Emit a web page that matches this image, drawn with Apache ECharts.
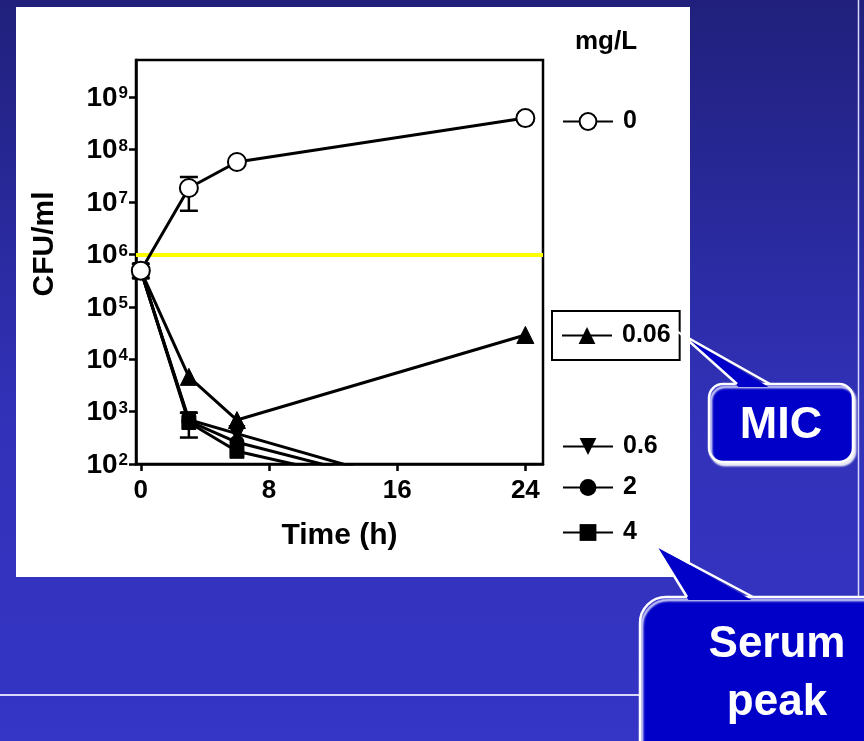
<!DOCTYPE html>
<html>
<head>
<meta charset="utf-8">
<title>Time-kill curves</title>
<script src="https://cdn.jsdelivr.net/npm/echarts@6/dist/echarts.min.js"></script>
<style>
  html, body { margin: 0; padding: 0; background: #2a2aa0; }
  #chart { width: 864px; height: 741px; }
</style>
</head>
<body>
<div id="chart"></div>
<script>
// Sampling times (h)
const hours = [0, 3, 6, 24];

// Viable counts (CFU/ml) for each drug concentration (mg/L)
const cfu_0    = [4.9e5, 1.85e7, 5.8e7, 4.0e8];
const cfu_006  = [4.9e5, 4.6e3, 6.9e2, 2.9e4];
const cfu_06   = [4.9e5, 7.0e2, 3.8e2, 10];
const cfu_2    = [4.9e5, 6.6e2, 2.6e2, 10];
const cfu_4    = [4.9e5, 6.2e2, 1.75e2, 10];

// Error bars: [time, low, high]
const err_0 = [[0, 3.6e5, 6.6e5], [3, 6.8e6, 3.0e7]];
const err_4 = [[3, 3.2e2, 9.5e2]];

// Inoculum reference level
const inoculumLine = 1e6;

// Axis ticks
const xTicks = [0, 8, 16, 24];
const yTicks = [1e2, 1e3, 1e4, 1e5, 1e6, 1e7, 1e8, 1e9];

// Legend names (mg/L)
const concNames = ['0', '0.06', '0.6', '2', '4'];

const FONT = 'Liberation Sans, Arial, Helvetica, sans-serif';
const toPairs = (ys) => hours.map((h, i) => [h, ys[i]]);

const chart = echarts.init(document.getElementById('chart'), null, { renderer: 'canvas' });

function errorBarRender(params, api) {
  const x = api.value(0);
  const lo = api.coord([x, api.value(1)]);
  const hi = api.coord([x, api.value(2)]);
  const half = 9;
  const st = { stroke: '#000', lineWidth: 2.5 };
  return {
    type: 'group',
    children: [
      { type: 'line', shape: { x1: lo[0], y1: lo[1], x2: hi[0], y2: hi[1] }, style: st },
      { type: 'line', shape: { x1: lo[0] - half, y1: lo[1], x2: lo[0] + half, y2: lo[1] }, style: st },
      { type: 'line', shape: { x1: hi[0] - half, y1: hi[1], x2: hi[0] + half, y2: hi[1] }, style: st }
    ]
  };
}

const lineBase = {
  type: 'line',
  lineStyle: { color: '#000', width: 3 },
  itemStyle: { color: '#000', borderColor: '#000' },
  clip: true,
  z: 3
};

function legendFor(name, left, top, boxed) {
  return {
    data: [name],
    left: left,
    top: top,
    orient: 'vertical',
    selectedMode: false,
    itemWidth: 50,
    itemHeight: 21,
    padding: boxed ? [12, 9, 12, 9] : 0,
    borderColor: boxed ? '#000' : 'transparent',
    borderWidth: boxed ? 2 : 0,
    textStyle: { fontFamily: FONT, fontWeight: 'bold', fontSize: 25, color: '#000', padding: [0, 0, 0, 5] }
  };
}

function callout(box, tail, lines, fontSize, lineGap, zBase) {
  const fill = '#0000c8';
  const els = [
    {
      type: 'rect', z: zBase,
      shape: { x: box.x, y: box.y, width: box.w, height: box.h, r: box.r },
      style: {
        fill: fill, stroke: '#ffffff', lineWidth: 2.5,
        shadowColor: 'rgba(255,255,255,0.9)', shadowBlur: 2, shadowOffsetX: 2, shadowOffsetY: 3
      }
    },
    {
      type: 'polygon', z: zBase + 1,
      shape: { points: [tail.apex, [tail.b1[0] + 1.5, tail.b1[1] + 3], [tail.b2[0] - 1.5, tail.b2[1] + 3]] },
      style: { fill: fill }
    },
    {
      type: 'polyline', z: zBase + 2,
      shape: { points: [tail.b1, tail.apex, tail.b2] },
      style: { stroke: '#ffffff', lineWidth: 2.5, fill: null }
    }
  ];
  lines.forEach((t, i) => {
    els.push({
      type: 'text', z: zBase + 3,
      x: box.cx, y: box.ty + i * lineGap,
      style: {
        text: t, fill: '#ffffff', font: 'bold ' + fontSize + 'px ' + FONT,
        textAlign: 'center', textVerticalAlign: 'middle'
      }
    });
  });
  return els;
}

const option = {
  animation: false,
  title: {
    text: 'mg/L',
    left: 575,
    top: 29,
    padding: 0,
    textStyle: { fontFamily: FONT, fontWeight: 'bold', fontSize: 26, color: '#000' }
  },
  legend: [
    legendFor(concNames[0], 562, 109, false),
    legendFor(concNames[1], 552, 311, true),
    legendFor(concNames[2], 562, 434, false),
    legendFor(concNames[3], 562, 475, false),
    legendFor(concNames[4], 562, 520, false)
  ],
  grid: {
    left: 136, right: 321, top: 60, bottom: 277,
    show: true, borderColor: '#000', borderWidth: 2.5, backgroundColor: 'transparent'
  },
  xAxis: {
    type: 'value',
    min: -0.3,
    max: 25.1,
    name: 'Time (h)',
    nameLocation: 'middle',
    nameGap: 57,
    nameTextStyle: { fontFamily: FONT, fontWeight: 'bold', fontSize: 30, color: '#000' },
    splitLine: { show: false },
    axisLine: { onZero: false, lineStyle: { color: '#000', width: 2.5 } },
    axisTick: { show: true, length: 7, lineStyle: { color: '#000', width: 2.5 }, customValues: xTicks },
    axisLabel: {
      customValues: xTicks, margin: 14,
      fontFamily: FONT, fontWeight: 'bold', fontSize: 26, color: '#000'
    }
  },
  yAxis: {
    type: 'log',
    logBase: 10,
    min: 1e2,
    max: Math.pow(10, 9.71),
    name: 'CFU/ml',
    nameLocation: 'middle',
    nameRotate: 90,
    nameGap: 76,
    nameTextStyle: { fontFamily: FONT, fontWeight: 'bold', fontSize: 30, color: '#000', padding: [0, 0, 0, 36] },
    splitLine: { show: false },
    axisLine: { onZero: false, lineStyle: { color: '#000', width: 2.5 } },
    axisTick: { show: true, length: 7, lineStyle: { color: '#000', width: 2.5 }, customValues: yTicks },
    axisLabel: {
      customValues: yTicks, margin: 8,
      formatter: (v) => '{b|10}{s|' + Math.round(Math.log10(v)) + '}',
      rich: {
        b: { fontFamily: FONT, fontWeight: 'bold', fontSize: 28, color: '#000', lineHeight: 30, verticalAlign: 'bottom' },
        s: { fontFamily: FONT, fontWeight: 'bold', fontSize: 17, color: '#000', lineHeight: 30, verticalAlign: 'top', padding: [3, 0, 0, 1] }
      }
    }
  },
  series: [
    {
      type: 'custom', name: 'err0', renderItem: errorBarRender,
      data: err_0, encode: { x: 0, y: [1, 2] }, z: 1, silent: true
    },
    {
      type: 'custom', name: 'err4', renderItem: errorBarRender,
      data: err_4, encode: { x: 0, y: [1, 2] }, z: 1, silent: true
    },
    Object.assign({}, lineBase, {
      name: concNames[4], data: toPairs(cfu_4), symbol: 'rect', symbolSize: 14
    }),
    Object.assign({}, lineBase, {
      name: concNames[3], data: toPairs(cfu_2), symbol: 'circle', symbolSize: 14
    }),
    Object.assign({}, lineBase, {
      name: concNames[2], data: toPairs(cfu_06), symbol: 'triangle', symbolSize: 16, symbolRotate: 180
    }),
    Object.assign({}, lineBase, {
      name: concNames[1], data: toPairs(cfu_006), symbol: 'triangle', symbolSize: 17
    }),
    Object.assign({}, lineBase, {
      name: concNames[0], data: toPairs(cfu_0), symbol: 'emptyCircle', symbolSize: 18,
      itemStyle: { color: '#000', borderColor: '#000', borderWidth: 2.5 },
      z: 5,
      markLine: {
        silent: true,
        symbol: ['none', 'none'],
        label: { show: false },
        lineStyle: { color: '#ffff00', width: 4, type: 'solid' },
        data: [{ yAxis: inoculumLine }],
        z: 2
      }
    })
  ],
  graphic: [
    {
      type: 'rect', z: -100, silent: true,
      shape: { x: 0, y: 0, width: 864, height: 741 },
      style: {
        fill: new echarts.graphic.LinearGradient(0, 0, 0, 1, [
          { offset: 0, color: '#20207c' },
          { offset: 0.55, color: '#3131b8' },
          { offset: 1, color: '#3535c6' }
        ])
      }
    },
    {
      type: 'rect', z: -99, silent: true,
      shape: { x: 16, y: 7, width: 674, height: 570 },
      style: { fill: '#ffffff' }
    },
    {
      type: 'line', z: -98, silent: true,
      shape: { x1: 0, y1: 695, x2: 645, y2: 695 },
      style: { stroke: '#d8d8ff', lineWidth: 2 }
    },
    {
      type: 'line', z: -98, silent: true,
      shape: { x1: 858.5, y1: 0, x2: 858.5, y2: 600 },
      style: { stroke: '#d8d8ff', lineWidth: 1.5 }
    }
  ]
    .concat(callout(
      { x: 709, y: 384, w: 144, h: 78, r: 14, cx: 781, ty: 426 },
      { apex: [681, 334], b1: [737, 384], b2: [770, 384] },
      ['MIC'], 45, 0, 100
    ))
    .concat(callout(
      { x: 640, y: 597, w: 250, h: 170, r: 26, cx: 777, ty: 645 },
      { apex: [655, 545], b1: [687, 597], b2: [753, 597] },
      ['Serum', 'peak'], 44, 58, 110
    ))
};

chart.setOption(option);
</script>
</body>
</html>
